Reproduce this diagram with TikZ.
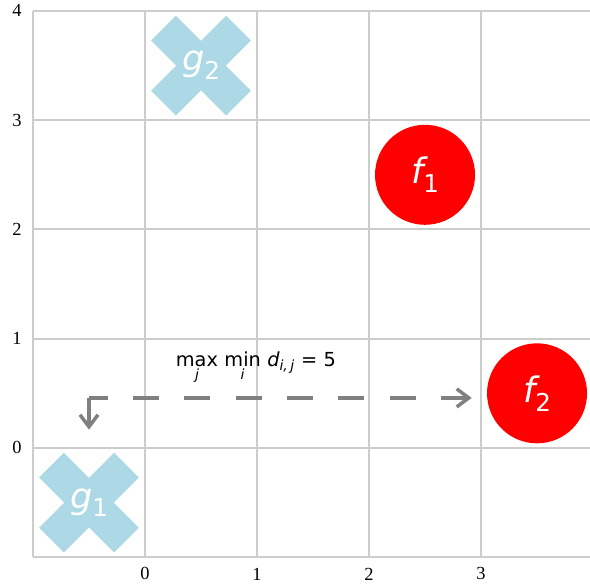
\documentclass[tikz,border=0pt]{standalone}
\usepackage{fontspec}
\setmainfont{Liberation Serif}
\newfontfamily\mtfont{DejaVu Sans}
\usetikzlibrary{arrows.meta, positioning, calc}
\definecolor{gridgray}{HTML}{CCCCCC}
\definecolor{crossblue}{HTML}{ADD8E6}
\definecolor{arrowgray}{HTML}{808080}
\newcommand{\mlabel}[2]{{\mtfont\itshape #1}\raisebox{-0.25em}{\mtfont\fontsize{14}{14}\selectfont #2}}
\newcommand{\sublim}[2]{\mathop{\hbox{#1}}\limits_{\hbox{\fontsize{8}{9}\selectfont\itshape #2}}}

\begin{document}
\begin{tikzpicture}[x=2.24cm, y=2.185cm,
    gridline/.style={gridgray, line width=1.1pt},
    ticklabel/.style={font=\fontsize{10.5}{11}\selectfont, inner sep=0pt},
    fmark/.style={circle, fill=red, minimum size=2cm, inner sep=0pt,
      text=white, font=\mtfont\fontsize{20}{24}\selectfont},
    gmark/.style={rectangle, minimum size=2cm, inner sep=0pt,
      text=white, font=\mtfont\fontsize{20}{24}\selectfont},
    crossarm/.style={crossblue},
    distarrow/.style={arrowgray, line width=2pt},
    barb/.tip={Straight Barb[length=0.24cm, width=0.36cm]}]
  \path[use as bounding box] (-1.2946,-1.238) rectangle (3.973,4.1);

  % grid and ticks
  \foreach \gx in {-1,0,...,3}
    \draw[gridline] (\gx,-1) -- (\gx,4);
  \foreach \gy in {-1,0,...,4}
    \draw[gridline] (-1,\gy) -- (3.973,\gy);
  \foreach \gx in {0,...,3}
    \node[ticklabel] (xlab\gx) at (\gx,-1.153) {\gx};
  \foreach \gy in {0,...,4}
    \node[ticklabel, anchor=east] (ylab\gy) at (-1.098,\gy) {\gy};

  % points
  \foreach \cx/\cy in {-0.5/-0.5, 0.5/3.5}
    \foreach \ang in {45,-45}
      \fill[crossarm, shift={(\cx,\cy)}, rotate=\ang]
        (-1.06cm,-0.35cm) rectangle (1.06cm,0.35cm);
  \node[gmark] (g1) at (-0.5,-0.5) {\mlabel{g}{1}};
  \node[gmark] (g2) at (0.5,3.5) {\mlabel{g}{2}};
  \node[fmark] (f1) at (2.5,2.5) {\mlabel{f}{1}};
  \node[fmark] (f2) at (3.5,0.5) {\mlabel{f}{2}};

  % farthest pair
  \coordinate (bend) at (-0.5,0.458);
  \draw[distarrow, dash pattern=on 0.52cm off 0.506cm, barb-, shorten <=0.3cm]
    (bend -| f2.west) -- (bend);
  \draw[distarrow, -barb, shorten >=0.45cm] (bend) -- (g1.north);
  \node[anchor=base, inner sep=0pt, font=\mtfont\fontsize{11}{13}\selectfont]
    (dist) at (0.99,0.75)
    {$\sublim{max}{j}\,\sublim{min}{i}\,\hbox{\itshape d}_{\hbox{\fontsize{8}{9}\selectfont\itshape i,\,j}}$ = 5};
\end{tikzpicture}
\end{document}
